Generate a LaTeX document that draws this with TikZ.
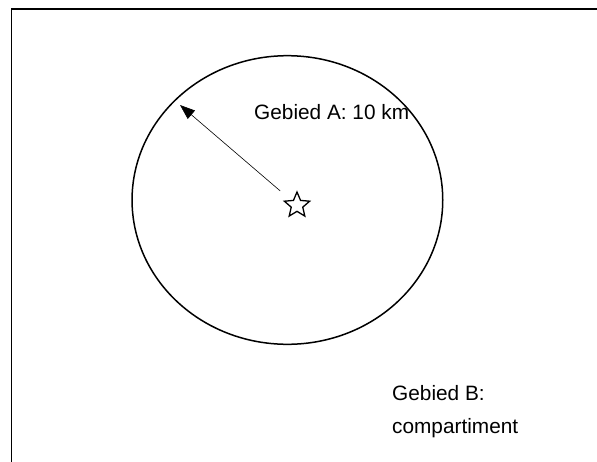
\documentclass[tikz,border=0pt]{standalone}
\usepackage{fontspec}
\setmainfont{Liberation Sans}
\usetikzlibrary{arrows.meta,shapes.geometric}

\begin{document}
\begin{tikzpicture}[>={Triangle[length=15pt,width=11pt]},x=1pt,y=-1pt,font=\fontsize{20.8}{33}\selectfont]
\tikzstyle{gebied}=[draw,ellipse,line width=1.5pt,inner sep=0pt,outer sep=0pt,minimum width=310.7pt,minimum height=288.6pt]
\tikzstyle{punt}=[draw,star,star points=5,star point ratio=2.2,minimum size=26.6pt,inner sep=0pt,line width=1.3pt]
\tikzstyle{tekst}=[inner sep=0pt,align=left]
\useasboundingbox (0,0) rectangle (597,461);
\clip (0,0) rectangle (597,461);
\draw[line width=1.6pt] (11.3,9) rectangle (640,500);
\node[gebied] (gebiedA) at (287.4,200) {};
\node[punt] (ster) at (297,205.3) {};
\coordinate (rand) at (180,105);
\draw[->,line width=0.6pt,shorten <=14pt] (ster) -- (rand);
\node[tekst,anchor=base west] (labelA) at (254,119) {Gebied A: 10 km};
\node[tekst,anchor=north west] (labelB) at (392,385.5) {Gebied B:\\compartiment};
\end{tikzpicture}
\end{document}
